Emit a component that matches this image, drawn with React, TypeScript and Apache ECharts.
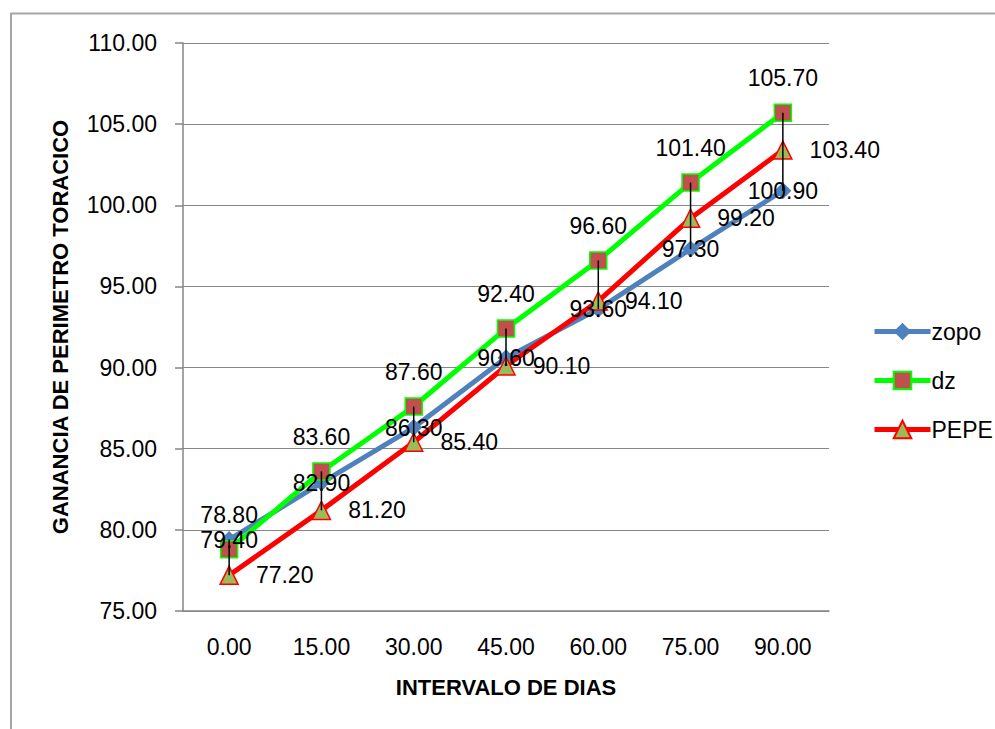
import React, { useEffect, useRef } from "react";
import * as echarts from "echarts";

const categories = ["0.00", "15.00", "30.00", "45.00", "60.00", "75.00", "90.00"];
const zopo = [79.4, 82.9, 86.3, 90.6, 93.6, 97.3, 100.9];
const dz = [78.8, 83.6, 87.6, 92.4, 96.6, 101.4, 105.7];
const pepe = [77.2, 81.2, 85.4, 90.1, 94.1, 99.2, 103.4];
const seriesNames = ["zopo", "dz", "PEPE"];

const FONT = "Liberation Sans";

export default function App() {
  const ref = useRef<HTMLDivElement>(null);
  useEffect(() => {
    document.body.style.margin = "0";
    const chart = echarts.init(ref.current!, null, { renderer: "svg" });
    const hl = categories.map((_, i) => {
      const vals = [zopo[i], dz[i], pepe[i]];
      return [i, Math.min(...vals), Math.max(...vals)];
    });
    const labelBase = {
      show: true,
      fontSize: 23,
      fontFamily: FONT,
      color: "#000",
      formatter: (p: any) => Number(p.value).toFixed(2),
    };
    chart.setOption({
      animation: false,
      backgroundColor: "#fff",
      textStyle: { fontFamily: FONT },
      graphic: [
        {
          type: "rect",
          z: -10,
          shape: { x: 11, y: 13.5, width: 1100, height: 900 },
          style: { fill: "none", stroke: "#A6A6A6", lineWidth: 2 },
        },
      ],
      grid: { left: 183, top: 43, right: 166, bottom: 118, containLabel: false },
      legend: {
        data: seriesNames,
        orient: "vertical",
        left: 867,
        top: 315,
        itemWidth: 56,
        itemHeight: 22,
        itemGap: 26,
        lineStyle: { width: 5 },
        textStyle: { fontSize: 23, fontFamily: FONT, color: "#000", padding: [0, 0, 0, -4] },
      },
      xAxis: {
        type: "category",
        data: categories,
        boundaryGap: true,
        name: "INTERVALO DE DIAS",
        nameLocation: "middle",
        nameGap: 65,
        nameTextStyle: { fontSize: 22, fontWeight: "bold", fontFamily: FONT, color: "#000" },
        axisLine: { show: true, lineStyle: { color: "#868686", width: 1.5 } },
        axisTick: { show: false },
        axisLabel: { fontSize: 23, fontFamily: FONT, color: "#000", margin: 24 },
      },
      yAxis: {
        type: "value",
        min: 75,
        max: 110,
        interval: 5,
        name: "GANANCIA DE PERIMETRO TORACICO",
        nameLocation: "middle",
        nameGap: 112,
        nameTextStyle: { fontSize: 22, fontWeight: "bold", fontFamily: FONT, color: "#000" },
        axisLine: { show: true, lineStyle: { color: "#868686", width: 1.5 } },
        axisTick: { show: true, length: 8, lineStyle: { color: "#868686", width: 1.5 } },
        axisLabel: {
          fontSize: 23,
          fontFamily: FONT,
          color: "#000",
          margin: 26,
          formatter: (v: number) => v.toFixed(2),
        },
        splitLine: { show: true, lineStyle: { color: "#868686", width: 1 } },
      },
      series: [
        {
          name: "zopo",
          type: "line",
          data: zopo,
          symbol: "diamond",
          symbolSize: 17,
          lineStyle: { color: "#4F81BD", width: 5 },
          itemStyle: { color: "#4F81BD" },
          label: { ...labelBase, position: "inside" },
        },
        {
          name: "dz",
          type: "line",
          data: dz,
          symbol: "rect",
          symbolSize: 17,
          lineStyle: { color: "#00FF00", width: 5 },
          itemStyle: { color: "#C0504D", borderColor: "#00FF00", borderWidth: 1.5 },
          label: { ...labelBase, position: "top", distance: 14 },
        },
        {
          name: "PEPE",
          type: "line",
          data: pepe,
          symbol: "triangle",
          symbolSize: 18,
          lineStyle: { color: "#FF0000", width: 5 },
          itemStyle: { color: "#9BBB59", borderColor: "#FF0000", borderWidth: 1.5 },
          label: { ...labelBase, position: "right", distance: 17 },
        },
        {
          name: "hilo",
          type: "custom",
          z: 10,
          silent: true,
          data: hl,
          renderItem: (params: any, api: any) => {
            const x = api.value(0);
            const p1 = api.coord([x, api.value(1)]);
            const p2 = api.coord([x, api.value(2)]);
            return {
              type: "line",
              shape: { x1: p1[0], y1: p1[1], x2: p2[0], y2: p2[1] },
              style: { stroke: "#000", lineWidth: 1.5 },
            };
          },
        },
      ],
    });
    return () => chart.dispose();
  }, []);
  return <div ref={ref} style={{ width: 995, height: 729 }} />;
}
